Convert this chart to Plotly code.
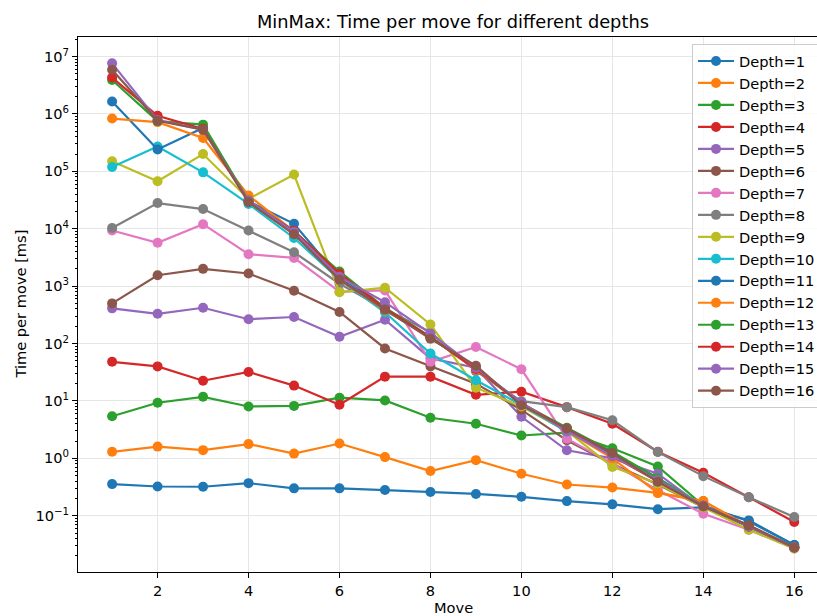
import plotly.graph_objects as go

moves = list(range(1, 17))

depth_1 = [0.356, 0.323, 0.32, 0.37, 0.30, 0.30, 0.28, 0.26, 0.24, 0.214, 0.18, 0.158, 0.13, 0.14, 0.083, 0.031]
depth_2 = [1.30, 1.6, 1.39, 1.77, 1.21, 1.81, 1.05, 0.6, 0.93, 0.54, 0.35, 0.31, 0.25, 0.18, 0.065, 0.028]
depth_3 = [5.4, 9.3, 11.8, 8.0, 8.2, 11.4, 10.2, 5.1, 4.0, 2.5, 2.8, 1.5, 0.72, 0.15, 0.065, 0.028]
depth_4 = [48, 40, 22.5, 32, 18.5, 8.6, 26.5, 26.5, 12.8, 14.5, 7.8, 4.0, 1.3, 0.56, 0.21, 0.078]
depth_5 = [410, 330, 420, 265, 290, 131, 260, 55, 38, 5.3, 1.38, 1.0, 0.54, 0.14, 0.065, 0.028]
depth_6 = [500, 1550, 2000, 1660, 830, 355, 82, 40, 20, 7, 2.06, 0.8, 0.35, 0.14, 0.068, 0.028]
depth_7 = [9300, 5700, 12000, 3600, 3100, 800, 840, 48, 87, 35.7, 2.2, 0.81, 0.28, 0.108, 0.057, 0.027]
depth_8 = [10300, 28000, 22000, 9300, 3900, 1100, 400, 158, 33, 9.9, 7.8, 4.6, 1.29, 0.49, 0.21, 0.095]
depth_9 = [150000, 67000, 200000, 33000, 88000, 780, 940, 215, 17, 8.0, 3.0, 0.71, 0.36, 0.14, 0.057, 0.027]
depth_10 = [119000, 270000, 96000, 27000, 6900, 1300, 350, 67, 23, 8.5, 2.9, 1.2, 0.45, 0.15, 0.065, 0.028]
depth_11 = [1.65e6, 2.4e5, 5.7e5, 3.0e4, 1.22e4, 1400, 400, 130, 35, 9, 3.0, 1.2, 0.4, 0.15, 0.08, 0.031]
depth_12 = [8.3e5, 7.2e5, 3.8e5, 3.8e4, 9000, 1300, 380, 130, 35, 9, 3.0, 1.0, 0.25, 0.18, 0.065, 0.028]
depth_13 = [3.9e6, 7.5e5, 6.5e5, 3.1e4, 9000, 1800, 420, 130, 38, 9, 3.4, 1.3, 0.45, 0.15, 0.065, 0.028]
depth_14 = [4.3e6, 9.3e5, 5.5e5, 3.0e4, 9200, 1650, 410, 128, 36, 9.2, 3.2, 1.1, 0.4, 0.15, 0.065, 0.028]
depth_15 = [7.6e6, 7.8e5, 5.3e5, 3.1e4, 8800, 1450, 525, 150, 38, 9.3, 3.0, 1.1, 0.42, 0.15, 0.065, 0.028]
depth_16 = [5.9e6, 7.6e5, 5.3e5, 2.9e4, 8000, 1300, 390, 121, 41, 8.4, 3.3, 1.24, 0.39, 0.145, 0.068, 0.028]

series = [depth_1, depth_2, depth_3, depth_4, depth_5, depth_6, depth_7, depth_8,
          depth_9, depth_10, depth_11, depth_12, depth_13, depth_14, depth_15, depth_16]
names = [f"Depth={i}" for i in range(1, 17)]

x_ticks = [2, 4, 6, 8, 10, 12, 14, 16]
y_tick_exps = [-1, 0, 1, 2, 3, 4, 5, 6, 7]

colors = ['#1f77b4', '#ff7f0e', '#2ca02c', '#d62728', '#9467bd',
          '#8c564b', '#e377c2', '#7f7f7f', '#bcbd22', '#17becf']

FONT = "DejaVu Sans"
fs = 14.6

fig = go.Figure()
for i, (name, vals) in enumerate(zip(names, series)):
    c = colors[i % 10]
    fig.add_trace(go.Scatter(
        x=moves, y=vals, name=name, mode="lines+markers",
        line=dict(color=c, width=2.2),
        marker=dict(color=c, size=10, line=dict(width=0)),
    ))

minor_vals = []
for e in range(-2, 8):
    for m in range(2, 10):
        minor_vals.append(m * 10 ** e)

def exp_label(e):
    s = str(e) if e >= 0 else "\u2212" + str(-e)
    return f"10<sup>{s}</sup>"

W, H = 817, 616
L, R, T, B = 78, 0, 37, 44
PW, PH = W - L - R, H - T - B

fig.update_layout(
    width=W, height=H,
    margin=dict(l=L, r=R, t=T, b=B, pad=0, autoexpand=False),
    paper_bgcolor="white", plot_bgcolor="white",
    font=dict(family=FONT, size=fs, color="black"),
    showlegend=True,
    legend=dict(
        x=(692 - L) / PW, y=(H - B - 44) / PH,
        xanchor="left", yanchor="top",
        bgcolor="rgba(255,255,255,0.8)", bordercolor="#cccccc", borderwidth=1,
        font=dict(family=FONT, size=fs, color="black"),
        tracegroupgap=0, itemwidth=36,
    ),
    xaxis=dict(
        range=[0.25, 16.5], automargin=False,
        tickmode="array", tickvals=x_ticks, ticktext=[str(v) for v in x_ticks],
        ticks="outside", ticklen=5, tickwidth=1, tickcolor="black",
        showline=True, linecolor="black", linewidth=1, mirror=True,
        showgrid=True, gridcolor="#e6e6e6", gridwidth=1,
        zeroline=False,
        tickfont=dict(family=FONT, size=fs, color="black"),
    ),
    yaxis=dict(
        type="log", range=[-1.98, 7.34], automargin=False,
        tickmode="array", tickvals=[10 ** e for e in y_tick_exps],
        ticktext=[exp_label(e) for e in y_tick_exps],
        ticks="outside", ticklen=5, tickwidth=1, tickcolor="black",
        showline=True, linecolor="black", linewidth=1, mirror=True,
        showgrid=True, gridcolor="#e6e6e6", gridwidth=1,
        zeroline=False,
        tickfont=dict(family=FONT, size=fs, color="black"),
        minor=dict(tickmode="array", tickvals=minor_vals, ticks="outside",
                   ticklen=2.5, tickwidth=0.8, tickcolor="black", showgrid=False),
    ),
    annotations=[
        dict(text="MinMax: Time per move for different depths", xref="paper", yref="paper",
             x=(453 - L) / PW, y=1 + (T - 21) / PH,
             xanchor="center", yanchor="middle", showarrow=False,
             font=dict(family=FONT, size=17.8, color="black")),
        dict(text="Move", xref="paper", yref="paper",
             x=(453 - L) / PW, y=-(607 - (H - B)) / PH,
             xanchor="center", yanchor="middle", showarrow=False,
             font=dict(family=FONT, size=fs, color="black")),
        dict(text="Time per move [ms]", xref="paper", yref="paper",
             x=-(L - 20) / PW, y=0.5, textangle=-90,
             xanchor="center", yanchor="middle", showarrow=False,
             font=dict(family=FONT, size=fs, color="black")),
    ],
)

fig.write_html("out.html", config={"displayModeBar": False},
               post_script="document.body.style.margin='0px';")
